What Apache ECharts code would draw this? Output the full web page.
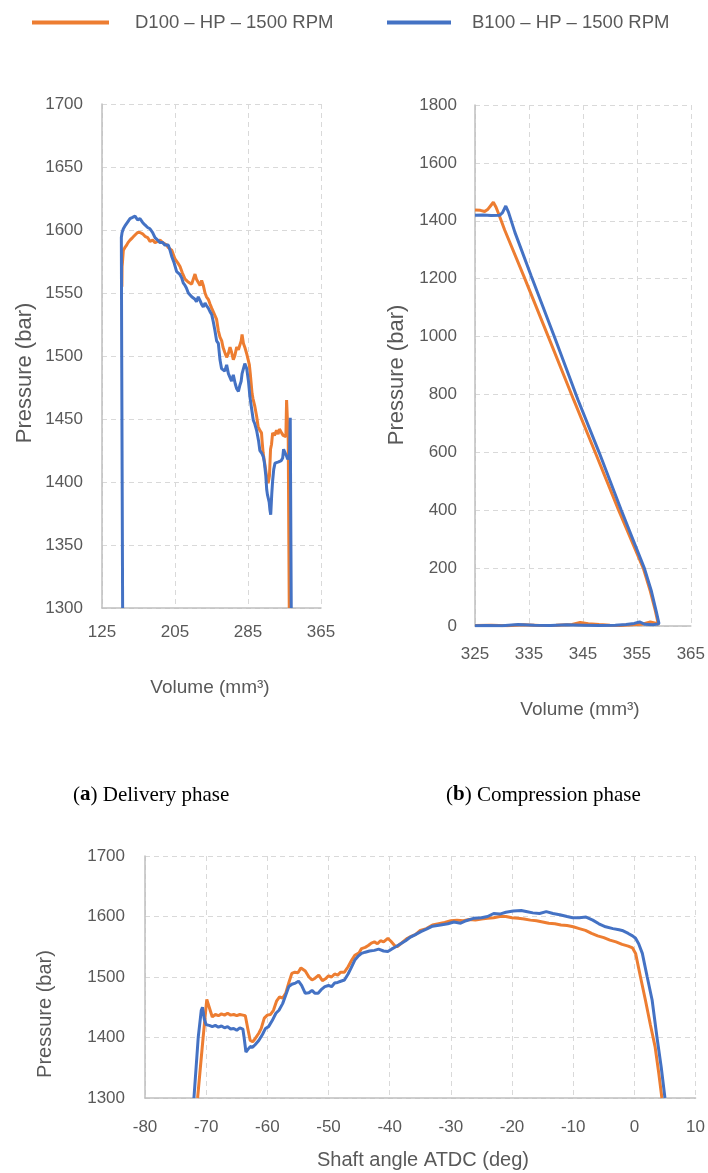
<!DOCTYPE html>
<html>
<head>
<meta charset="utf-8">
<script src="https://cdn.jsdelivr.net/npm/echarts@6/dist/echarts.min.js"></script>
<style>
  html, body { margin: 0; padding: 0; background: #ffffff; }
  #chart { width: 708px; height: 1173px; }
</style>
</head>
<body>
<div id="chart"></div>
<script>
// Series names
const seriesNames = ['D100 \u2013 HP \u2013 1500 RPM', 'B100 \u2013 HP \u2013 1500 RPM'];
const colors = ['#ED7D31', '#4472C4'];

// (a) Delivery phase: [volume mm3, pressure bar]
const deliveryD100 = [
  [330.2,1300],[329.1,1433],[327.3,1465],[326.5,1436],[325.5,1435],[323.5,1437],[321.8,1439],[319.5,1442],
  [318,1438],[316.3,1441],[314,1437],[312,1439],[310.8,1430],[309.7,1426],[308.5,1405],[307.1,1399],
  [306,1398],[305.3,1405],[303.5,1414],[301.6,1423],[300.5,1432],[299.8,1439],[298,1441],[296.1,1444],
  [294.5,1452],[292.5,1460],[290.5,1466],[289.5,1470],[288.8,1470],[287.5,1486],[286.5,1493],[285.2,1497],
  [283.5,1502],[281.5,1507],[280,1510],[278.5,1517],[277.5,1512],[276.2,1511],[274.5,1505],[272.6,1507],
  [270.5,1500],[268.9,1497],[267,1503],[265.3,1507],[263.5,1502],[261.6,1499],[259.5,1503],[257.6,1507],
  [256.2,1512],[254.3,1515],[252.5,1520],[250.6,1529],[248.8,1530],[247,1535],[245.2,1538],[243.5,1541],
  [241.5,1545],[239.5,1547],[237.9,1550],[236,1556],[234.2,1560],[232.5,1556],[230.5,1557],[228.5,1561],
  [226.9,1565],[225,1561],[223.3,1557],[221.5,1557],[219,1559],[216,1561],[213,1566],[210.5,1571],
  [208,1574],[205,1577],[203,1581],[201.4,1584],[199.5,1584],[197.7,1586],[196,1588],[194,1589],
  [191.5,1590],[188.6,1592],[186,1591],[183.1,1590],[180.5,1592],[177.6,1591],[175,1594],[172.1,1595],
  [169.5,1597],[166.6,1598],[164,1598],[161.2,1596],[158.5,1594],[155.7,1592],[153.5,1590],[152,1588],
  [150,1586],[148.4,1584],[147.5,1575],[147,1571],[146.8,1555]
];
const deliveryB100 = [
  [332.4,1300],[331.3,1451],[330.6,1425],[330.2,1420],[328.5,1418],[327,1421],[325.5,1422],[324,1426],
  [323,1419],[321.5,1417],[320,1418],[318.5,1416],[316.5,1417],[314.6,1415],[313.2,1410],[312,1401],
  [311,1390],[309.9,1374],[309,1378],[308.2,1384],[307.3,1384],[306.3,1390],[305.5,1394],[304.5,1405],
  [303,1415],[301.8,1420],[300,1423],[298,1425],[296.5,1433],[294.4,1441],[292.5,1446],[290.8,1449],
  [289,1458],[287.2,1467],[285.5,1480],[283.6,1490],[281.5,1494],[279.8,1493],[278.5,1486],[277.5,1480],
  [276.2,1477],[274.5,1472],[272.6,1474],[271,1478],[268.9,1485],[267,1480],[265.3,1481],[263.5,1486],
  [261.6,1493],[259.5,1488],[257.6,1487],[256,1490],[254.3,1497],[252.5,1510],[250.6,1512],[248.8,1520],
  [247,1527],[245.2,1533],[243.5,1535],[241.5,1538],[239.5,1540],[237.9,1542],[236,1539],[234.2,1541],
  [232.5,1544],[230.5,1547],[228.5,1543],[226.9,1545],[225,1546],[223.3,1547],[221.5,1548],[219.6,1550],
  [217.5,1554],[216,1556],[214,1558],[212.3,1562],[210,1565],[206.8,1567],[204,1574],[201.4,1579],
  [199.5,1584],[197.7,1588],[196,1589],[194,1588],[191.5,1590],[188.6,1590],[186,1592],[183.1,1594],
  [180.5,1598],[177.6,1601],[175,1602],[172.1,1604],[169.5,1606],[166.6,1609],[164,1608],[161.2,1611],
  [158.5,1610],[155.7,1609],[153.8,1607],[152,1606],[150,1603],[148.4,1601],[147,1598],[146.2,1594],
  [146.6,1500],[147.1,1400],[147.6,1300]
];

// (b) Compression phase: [volume mm3, pressure bar]
const compressionD100 = [
  [325,2],[328,3],[331,1],[334,4],[337,2],[340,3],[343,5],[344.5,12],[346,8],[348,5],[350,3],[352,2],
  [354,4],[356,6],[357.5,14],[358.5,10],[359,5],
  [358.4,55],[357.5,120],[356.2,199],[351.6,401],[347.5,590],[343.3,781],[338.6,999],[334.1,1206],
  [330.5,1368],[329.5,1418],[328.9,1447],[328.4,1464],[327.9,1452],[327.4,1440],[326.8,1432],[326,1436],[325,1437]
];
const compressionB100 = [
  [325,1],[327,2],[330,1],[333,5],[336,3],[339,2],[342,4],[345,3],[348,2],[351,3],[353,5],[354.5,9],
  [355.5,14],[356.5,6],[358,4],[359.1,8],
  [358.6,50],[357.7,120],[356.4,199],[352.1,401],[348,600],[344.1,781],[339.7,1000],[335.4,1210],
  [332.4,1360],[331.2,1430],[330.7,1451],[330.1,1428],[329.6,1419],[328,1418],[326.5,1420],[325,1419]
];

// (c) Pressure versus shaft angle: [deg ATDC, pressure bar]
const angleD100 = [
  [-71.4,1300],[-70.5,1400],[-69.9,1463],[-69.5,1450],[-69.0,1434],[-68.5,1438],[-68,1436],[-67.5,1439],
  [-67,1437],[-66.5,1440],[-66,1437],[-65.5,1438],[-65,1436],[-64.5,1438],[-64,1437],[-63.6,1436],
  [-63.2,1415],[-62.8,1395],[-62.4,1393],[-62,1398],[-61.4,1407],[-61,1415],[-60.5,1432],[-60,1437],
  [-59.5,1438],[-59,1445],[-58.5,1460],[-58,1467],[-57.5,1465],[-57,1473],[-56.5,1490],[-56,1506],
  [-55.5,1508],[-55,1507],[-54.5,1515],[-54.2,1517],[-53.8,1510],[-53.2,1500],[-52.7,1495],[-52.2,1498],
  [-51.6,1503],[-51,1494],[-50.5,1497],[-50,1502],[-49.5,1500],[-49,1505],[-48.5,1503],[-48,1508],
  [-47.4,1508],[-46.8,1517],[-46.2,1528],[-45.7,1536],[-45,1540],[-44.6,1547],[-44,1549],[-43.5,1552],
  [-43,1556],[-42.5,1558],[-42,1555],[-41.5,1560],[-41,1558],[-40.3,1564],[-39.8,1559],[-39.2,1552],
  [-38.8,1550],[-38.2,1555],[-37.6,1560],[-37.1,1564],[-36.5,1567],[-35.8,1570],[-35,1577],[-34,1580],
  [-33,1586],[-32,1588],[-31,1590],[-30,1593],[-29,1594],[-28,1593],[-27,1595],[-26,1594],[-25,1596],
  [-24,1597],[-23,1598],[-22,1600],[-21,1600],[-20,1598],[-19,1597],[-18,1596],[-17,1594],[-16,1593],
  [-15,1591],[-14,1589],[-13,1588],[-12,1586],[-11,1585],[-10,1583],[-9,1580],[-8,1577],[-7,1572],
  [-6,1568],[-5,1565],[-4,1561],[-3,1558],[-2,1554],[-1,1551],[-0.3,1548],[0.2,1539],[1,1500],
  [1.8,1462],[2.6,1422],[3.4,1384],[4,1340],[4.5,1300]
];
const angleB100 = [
  [-72,1300],[-71.3,1400],[-70.8,1445],[-70.6,1450],[-70.3,1430],[-70,1421],[-69.5,1420],[-69,1418],
  [-68.5,1420],[-68,1417],[-67.5,1419],[-67,1416],[-66.5,1418],[-66,1414],[-65.5,1415],[-65,1412],
  [-64.5,1416],[-64,1414],[-63.8,1400],[-63.5,1376],[-63.2,1380],[-62.8,1385],[-62.4,1384],[-62,1388],
  [-61.4,1395],[-60.8,1405],[-60.3,1415],[-59.8,1418],[-59.2,1428],[-58.6,1440],[-58.1,1445],[-57.5,1456],
  [-57,1470],[-56.5,1484],[-56,1488],[-55.4,1490],[-54.9,1493],[-54.4,1486],[-53.8,1473],[-53.2,1474],
  [-52.7,1478],[-52.2,1473],[-51.7,1473],[-51.2,1479],[-50.6,1484],[-50,1486],[-49.5,1484],[-49,1490],
  [-48.5,1491],[-48,1493],[-47.4,1495],[-46.8,1505],[-46.3,1515],[-45.7,1528],[-45.2,1534],[-44.6,1539],
  [-44,1541],[-43.3,1543],[-42.5,1544],[-41.8,1546],[-41,1543],[-40.3,1542],[-39.7,1546],[-39,1550],
  [-38.2,1555],[-37.4,1560],[-36.6,1566],[-35.8,1570],[-34.9,1575],[-34,1579],[-33,1584],[-31.7,1586],
  [-30.5,1588],[-29.5,1591],[-28.4,1589],[-27.5,1593],[-26.3,1597],[-25,1598],[-24,1600],[-23,1605],
  [-22,1604],[-21,1607],[-19.8,1609],[-18.5,1610],[-17.5,1608],[-16.6,1606],[-15.5,1605],[-14.4,1608],
  [-13.3,1605],[-12.2,1603],[-11,1600],[-10.1,1598],[-9,1598],[-7.9,1599],[-6.8,1594],[-5.8,1588],
  [-4.7,1583],[-3.5,1580],[-2.5,1578],[-2,1577],[-1,1572],[-0.3,1568],[0.2,1564],[0.7,1555],[1.3,1539],
  [2.1,1500],[2.9,1462],[3.7,1400],[4.4,1350],[5,1300]
];

// Axis ticks
const volumeTicksA = [125, 205, 285, 365];
const volumeTicksB = [325, 335, 345, 355, 365];

// Titles
const axisTitles = {
  pressure: 'Pressure (bar)',
  volume: 'Volume (mm\u00B3)',
  angle: 'Shaft angle ATDC (deg)'
};

const FONT = '"Liberation Sans", Arial, sans-serif';
const SERIF = '"Liberation Serif", "Times New Roman", serif';
const textGrey = '#595959';

function labelStyle(margin, extra) {
  return Object.assign({
    color: textGrey, fontFamily: FONT, fontSize: 17, margin,
    formatter: (v) => String(v)
  }, extra || {});
}

function valueAxis(gridIndex, min, max, interval, margin) {
  return {
    type: 'value', gridIndex, min, max, interval,
    axisLine: { show: true, onZero: false, lineStyle: { color: '#bfbfbf', width: 1.5 } },
    axisTick: { show: false },
    splitLine: { show: true, lineStyle: { color: '#d9d9d9', type: [5, 4], width: 1 } },
    axisLabel: labelStyle(margin)
  };
}

function customXAxis(gridIndex, ticks, margin) {
  const ax = valueAxis(gridIndex, ticks[0], ticks[ticks.length - 1], undefined, margin);
  ax.axisTick = { show: false, customValues: ticks };
  ax.axisLabel = labelStyle(margin, { customValues: ticks });
  return ax;
}

function lineSeries(name, color, xi, yi, data) {
  return {
    type: 'line', name, data, xAxisIndex: xi, yAxisIndex: yi,
    showSymbol: false, symbol: 'none', animation: false,
    lineStyle: { color, width: 3 }, itemStyle: { color },
    clip: true
  };
}

function titleText(text, x, y, rotate, size) {
  return {
    type: 'text', x, y, rotation: rotate ? Math.PI / 2 : 0,
    style: { text, fill: textGrey, font: size + 'px ' + FONT, align: 'center', verticalAlign: 'middle' }
  };
}

function caption(letter, rest, x, y) {
  return {
    type: 'text', x, y,
    style: {
      text: '{n|(}{b|' + letter + '}{n|) ' + rest + '}',
      verticalAlign: 'middle',
      rich: {
        n: { fontFamily: SERIF, fontSize: 21, fill: '#000000', color: '#000000' },
        b: { fontFamily: SERIF, fontSize: 21, fontWeight: 'bold', fill: '#000000', color: '#000000' }
      }
    }
  };
}

const chart = echarts.init(document.getElementById('chart'), null, { renderer: 'canvas' });

chart.setOption({
  backgroundColor: '#ffffff',
  animation: false,
  legend: [
    {
      data: [seriesNames[0]], left: 27, top: 8, icon: 'rect', itemWidth: 77, itemHeight: 4,
      textStyle: { color: textGrey, fontFamily: FONT, fontSize: 18.5, padding: [0, 0, 0, 21] }
    },
    {
      data: [seriesNames[1]], left: 382, top: 8, icon: 'rect', itemWidth: 64, itemHeight: 4,
      textStyle: { color: textGrey, fontFamily: FONT, fontSize: 18.5, padding: [0, 0, 0, 16] }
    }
  ],
  grid: [
    { left: 102, top: 104, width: 219, height: 504 },
    { left: 475, top: 105, width: 218, height: 521 },
    { left: 145, top: 856, width: 556, height: 242 }
  ],
  xAxis: [
    customXAxis(0, volumeTicksA, 16),
    customXAxis(1, volumeTicksB, 20),
    valueAxis(2, -80, 10, 10, 21)
  ],
  yAxis: [
    valueAxis(0, 1300, 1700, 50, 19),
    valueAxis(1, 0, 1800, 200, 18),
    valueAxis(2, 1300, 1700, 100, 20)
  ],
  series: [
    lineSeries(seriesNames[0], colors[0], 0, 0, deliveryD100),
    lineSeries(seriesNames[1], colors[1], 0, 0, deliveryB100),
    lineSeries(seriesNames[0], colors[0], 1, 1, compressionD100),
    lineSeries(seriesNames[1], colors[1], 1, 1, compressionB100),
    lineSeries(seriesNames[0], colors[0], 2, 2, angleD100),
    lineSeries(seriesNames[1], colors[1], 2, 2, angleB100)
  ],
  graphic: [
    titleText(axisTitles.pressure, 25, 373, true, 22),
    titleText(axisTitles.volume, 210, 688, false, 19),
    titleText(axisTitles.pressure, 397, 375, true, 22),
    titleText(axisTitles.volume, 580, 710, false, 19),
    titleText(axisTitles.pressure, 45, 1014, true, 20),
    titleText(axisTitles.angle, 423, 1160, false, 20),
    caption('a', 'Delivery phase', 73, 795),
    caption('b', 'Compression phase', 446, 795)
  ]
});
</script>
</body>
</html>
